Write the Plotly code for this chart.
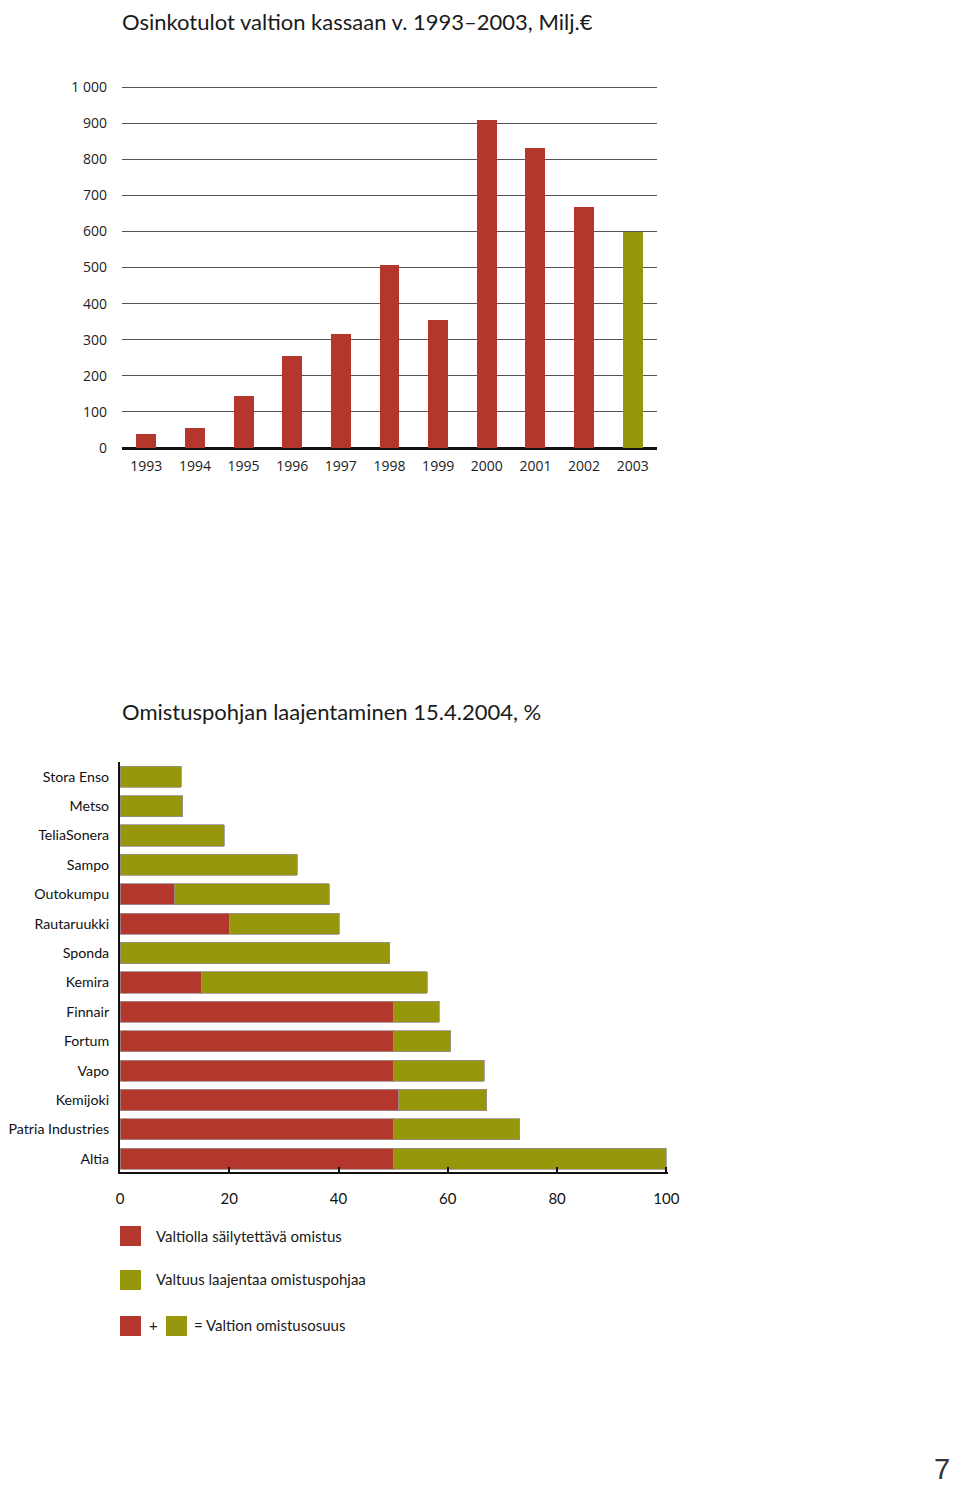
import plotly.graph_objects as go

# ---------------- data ----------------
years = ["1993", "1994", "1995", "1996", "1997", "1998", "1999", "2000", "2001", "2002", "2003"]
dividends = [40, 55, 143, 255, 316, 507, 355, 908, 830, 667, 598]
year_is_2003 = [False] * 10 + [True]

y_tickvals = [0, 100, 200, 300, 400, 500, 600, 700, 800, 900, 1000]
y_ticktext = ["0", "100", "200", "300", "400", "500", "600", "700", "800", "900", "1 000"]

companies = ["Stora Enso", "Metso", "TeliaSonera", "Sampo", "Outokumpu", "Rautaruukki",
             "Sponda", "Kemira", "Finnair", "Fortum", "Vapo", "Kemijoki",
             "Patria Industries", "Altia"]
kept = [0, 0, 0, 0, 9.9, 20.0, 0, 15.0, 50.1, 50.1, 50.1, 50.9, 50.1, 50.1]
total = [11.2, 11.5, 19.1, 32.4, 38.3, 40.1, 49.4, 56.2, 58.4, 60.5, 66.7, 67.1, 73.2, 100]
extension = [round(t - k, 1) for t, k in zip(total, kept)]

x_tickvals = [0, 20, 40, 60, 80, 100]

title_top = "Osinkotulot valtion kassaan v. 1993\u20132003, Milj.\u20ac"
title_bottom = "Omistuspohjan laajentaminen 15.4.2004, %"
legend_texts = ["Valtiolla säilytettävä omistus", "Valtuus laajentaa omistuspohjaa",
                "= Valtion omistusosuus"]

RED = "#B3372D"
OLIVE = "#96970B"
OFF = 8  # default page body margin
W, H = 960 - 2 * OFF, 1497 - 2 * OFF

def py(p):
    return 1 - (p - OFF) / H

def px(p):
    return (p - OFF) / W

fig = go.Figure()

fig.add_trace(go.Bar(
    x=years, y=dividends,
    marker=dict(color=[OLIVE if f else RED for f in year_is_2003], line=dict(width=0)),
    width=0.41, xaxis="x", yaxis="y", showlegend=False,
))

fig.add_trace(go.Bar(
    y=companies, x=kept, orientation="h",
    marker=dict(color=RED, line=dict(width=0.8, color="#9a8f95")),
    width=0.72, xaxis="x2", yaxis="y2", showlegend=False,
))
fig.add_trace(go.Bar(
    y=companies, x=extension, orientation="h",
    marker=dict(color=OLIVE, line=dict(width=0.8, color="#9a8f95")),
    width=0.72, xaxis="x2", yaxis="y2", showlegend=False,
))

tick_font = dict(family="Open Sans, sans-serif", size=14, color="#222")
lab_font = dict(family="Lato, sans-serif", size=14.2, color="#111")
xlab_font = dict(family="Lato, sans-serif", size=15, color="#111")

fig.update_layout(
    width=W, height=H,
    margin=dict(l=0, r=0, t=0, b=0, autoexpand=False),
    paper_bgcolor="white", plot_bgcolor="white",
    barmode="stack",
    xaxis=dict(domain=[px(122), px(657)], type="category", range=[-0.5, 10.5],
               showgrid=False, showline=False, zeroline=False, automargin=False,
               ticks="", tickfont=tick_font, ticklabelstandoff=8, anchor="y"),
    yaxis=dict(domain=[py(448), py(86)], range=[0, 1003],
               tickvals=y_tickvals, ticktext=y_ticktext, automargin=False,
               showgrid=True, gridcolor="#555555", gridwidth=1,
               zeroline=True, zerolinecolor="#111", zerolinewidth=2.5,
               showline=False, ticks="", tickfont=tick_font,
               ticklabelstandoff=14, anchor="x"),
    xaxis2=dict(domain=[px(120), px(668)], range=[0, 100.3], automargin=False,
                tickvals=x_tickvals, showgrid=False, zeroline=False,
                showline=True, linecolor="#111", linewidth=2,
                ticks="inside", ticklen=5, tickwidth=1.5, tickcolor="#111",
                tickfont=xlab_font, ticklabelstandoff=12, anchor="y2"),
    yaxis2=dict(domain=[py(1172), py(762)], type="category", automargin=False,
                categoryorder="array", categoryarray=companies,
                range=[13.45, -0.5],
                showgrid=False, zeroline=False,
                showline=True, linecolor="#111", linewidth=2,
                ticks="", tickfont=lab_font, ticklabelstandoff=6, anchor="x2"),
    bargap=0.3,
)

ann = []
ann.append(dict(text=title_top, x=px(120), y=py(21), xref="paper", yref="paper",
                xanchor="left", yanchor="middle", showarrow=False,
                font=dict(family="Lato, sans-serif", size=22, color="#1a1a1a")))
ann.append(dict(text=title_bottom, x=px(120), y=py(711), xref="paper", yref="paper",
                xanchor="left", yanchor="middle", showarrow=False,
                font=dict(family="Lato, sans-serif", size=22, color="#1a1a1a")))
leg_font = dict(family="Lato, sans-serif", size=15, color="#1a1a1a")
ann.append(dict(text=legend_texts[0], x=px(154), y=py(1236), xref="paper", yref="paper",
                xanchor="left", yanchor="middle", showarrow=False, font=leg_font))
ann.append(dict(text=legend_texts[1], x=px(154), y=py(1279), xref="paper", yref="paper",
                xanchor="left", yanchor="middle", showarrow=False, font=leg_font))
ann.append(dict(text="+", x=px(153), y=py(1325), xref="paper", yref="paper",
                xanchor="center", yanchor="middle", showarrow=False, font=leg_font))
ann.append(dict(text=legend_texts[2], x=px(192), y=py(1325), xref="paper", yref="paper",
                xanchor="left", yanchor="middle", showarrow=False, font=leg_font))
ann.append(dict(text="7", x=px(942), y=py(1469), xref="paper", yref="paper",
                xanchor="center", yanchor="middle", showarrow=False,
                font=dict(family="Liberation Sans, Arial, sans-serif", size=29, color="#333")))
fig.update_layout(annotations=ann)

shapes = []
for (x0, y0, c) in [(120, 1226, RED), (120, 1270, OLIVE), (120, 1316, RED), (166, 1316, OLIVE)]:
    shapes.append(dict(type="rect", xref="paper", yref="paper",
                       x0=px(x0), x1=px(x0 + 21), y0=py(y0 + 20), y1=py(y0),
                       fillcolor=c, line=dict(width=0)))
fig.update_layout(shapes=shapes)

fig.write_html("out.html")
